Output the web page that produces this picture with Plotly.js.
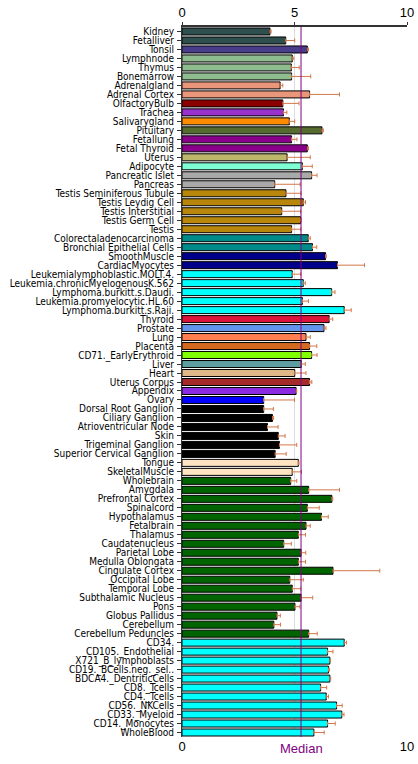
<!DOCTYPE html>
<html>
<head>
<meta charset="utf-8">
<script src="https://cdn.plot.ly/plotly-3.0.1.min.js"></script>
<style>
  html, body { margin: 0; padding: 0; background: #fff; }
  #chart { width: 418px; height: 764px; }
</style>
</head>
<body>
<div id="chart"></div>
<script>
// Tissue / cell-type expression profile with per-sample error
const tissues = [
  "Kidney", "Fetalliver", "Tonsil", "Lymphnode", "Thymus", "Bonemarrow",
  "Adrenalgland", "Adrenal Cortex", "OlfactoryBulb", "Trachea", "Salivarygland",
  "Pituitary", "Fetallung", "Fetal Thyroid", "Uterus", "Adipocyte",
  "Pancreatic Islet", "Pancreas", "Testis Seminiferous Tubule", "Testis Leydig Cell",
  "Testis Interstitial", "Testis Germ Cell", "Testis", "Colorectaladenocarcinoma",
  "Bronchial Epithelial Cells", "SmoothMuscle", "CardiacMyocytes",
  "Leukemialymphoblastic.MOLT.4.", "Leukemia.chronicMyelogenousK.562",
  "Lymphoma.burkitt.s.Daudi.", "Leukemia.promyelocytic.HL.60", "Lymphoma.burkitt.s.Raji.",
  "Thyroid", "Prostate", "Lung", "Placenta", "CD71._EarlyErythroid", "Liver", "Heart",
  "Uterus Corpus", "Appendix", "Ovary", "Dorsal Root Ganglion", "Ciliary Ganglion",
  "Atrioventricular Node", "Skin", "Trigeminal Ganglion", "Superior Cervical Ganglion",
  "Tongue", "SkeletalMuscle", "Wholebrain", "Amygdala", "Prefrontal Cortex",
  "Spinalcord", "Hypothalamus", "Fetalbrain", "Thalamus", "Caudatenucleus",
  "Parietal Lobe", "Medulla Oblongata", "Cingulate Cortex", "Occipital Lobe",
  "Temporal Lobe", "Subthalamic Nucleus", "Pons", "Globus Pallidus", "Cerebellum",
  "Cerebellum Peduncles", "CD34.", "CD105._Endothelial", "X721_B_lymphoblasts",
  "CD19._BCells.neg._sel..", "BDCA4._DentriticCells", "CD8._Tcells", "CD4._Tcells",
  "CD56._NKCells", "CD33._Myeloid", "CD14._Monocytes", "WholeBlood"
];

const expression = [
  3.91, 4.61, 5.57, 4.90, 4.86, 4.87,
  4.36, 5.67, 4.48, 4.51, 4.77,
  6.22, 4.87, 5.57, 4.67, 5.35,
  5.76, 4.12, 4.62, 5.39,
  4.43, 5.27, 4.87, 5.61,
  5.80, 6.38, 6.91,
  4.90, 5.39,
  6.65, 5.35, 7.21,
  6.54, 6.31, 5.51, 5.67, 5.76, 5.30, 5.01,
  5.67, 5.07, 3.63, 3.63, 4.02,
  3.80, 4.28, 4.33, 4.14,
  5.17, 4.90, 4.83, 5.63, 6.66,
  5.57, 6.20, 5.51, 5.17, 4.52,
  5.29, 5.17, 6.71, 4.79,
  4.90, 5.29, 5.02, 4.22, 4.08,
  5.63, 7.21, 6.47, 6.57,
  6.51, 6.57, 6.16, 6.41,
  6.87, 7.10, 6.47, 5.86
];

const errorPlus = [
  0.05, 0.40, 0.05, 0.07, 0.35, 0.85,
  0.12, 1.33, 0.72, 0.15, 0.24,
  0.06, 0.24, 0.05, 1.03, 0.44,
  0.24, 1.13, 0.67, 0.10,
  0.84, 0.03, 0.41, 0.09,
  0.19, 0.03, 1.20,
  0.38, 0.09,
  0.15, 0.27, 0.31,
  0.16, 0.09, 0.19, 0.32, 0.24, 0.18, 0.50,
  0.10, 0.03, 1.37, 0.43, 0.05,
  0.47, 0.30, 0.77, 0.49,
  0.03, 0.41, 0.27, 1.37, 0.04,
  0.53, 0.30, 0.19, 0.32, 0.34,
  0.21, 0.32, 2.08, 0.60,
  0.38, 0.52, 0.22, 0.15, 0.30,
  0.38, 0.10, 0.24, 0.03,
  0.04, 0.04, 0.27, 0.10,
  0.25, 0.10, 0.34, 0.46
];

const barColors = [
  "#2F4F4F", "#2F4F4F", "#483D8B", "#8FBC8F", "#8FBC8F", "#8FBC8F",
  "#E9967A", "#E9967A", "#8B0000", "#9932CC", "#FF8C00",
  "#556B2F", "#8B008B", "#8B008B", "#BDB76B", "#7FFFD4",
  "#A9A9A9", "#A9A9A9", "#B8860B", "#B8860B",
  "#B8860B", "#B8860B", "#B8860B", "#008B8B",
  "#008B8B", "#00008B", "#00008B",
  "#00FFFF", "#00FFFF",
  "#00FFFF", "#00FFFF", "#00FFFF",
  "#DC143C", "#6495ED", "#FF7F50", "#D2691E", "#7FFF00", "#5F9EA0", "#DEB887",
  "#A52A2A", "#8A2BE2", "#0000FF", "#000000", "#000000",
  "#000000", "#000000", "#000000", "#000000",
  "#FFE4C4", "#FFE4C4", "#006400", "#006400", "#006400",
  "#006400", "#006400", "#006400", "#006400", "#006400",
  "#006400", "#006400", "#006400", "#006400",
  "#006400", "#006400", "#006400", "#006400", "#006400",
  "#006400", "#00FFFF", "#00FFFF", "#00FFFF",
  "#00FFFF", "#00FFFF", "#00FFFF", "#00FFFF",
  "#00FFFF", "#00FFFF", "#00FFFF", "#00FFFF"
];

const medianValue = 5.29;
const topTicks = [0, 5, 10];
const bottomTicks = [0, 10];
const bottomTickText = ["0", "10"];
const medianLabel = "Median";

const labelFont = { family: "DejaVu Sans Condensed, DejaVu Sans, sans-serif", size: 10, color: "#000" };
const numFont = { family: "Liberation Sans, Arial, sans-serif", size: 13, color: "#000" };

const bars = {
  type: "bar",
  orientation: "h",
  y: tissues,
  x: expression,
  width: 0.78,
  marker: { color: barColors, line: { color: "#000", width: 1 } },
  error_x: {
    type: "data",
    symmetric: false,
    array: errorPlus,
    arrayminus: expression.map(() => 0),
    color: "#D2784B",
    thickness: 1,
    width: 2
  },
  hoverinfo: "x+y",
  showlegend: false
};

// invisible trace to activate the lower axis
const bottomAxisCarrier = {
  type: "scatter", mode: "markers",
  x: [0], y: [tissues[0]], xaxis: "x2",
  marker: { opacity: 0 }, hoverinfo: "skip", showlegend: false
};

const layout = {
  width: 418,
  height: 764,
  margin: { l: 182, r: 11, t: 27, b: 27 },
  paper_bgcolor: "#fff",
  plot_bgcolor: "#fff",
  xaxis: {
    side: "top",
    range: [0, 10],
    tickvals: topTicks,
    ticktext: topTicks.map(String),
    tickfont: numFont,
    ticks: "outside",
    ticklen: 3,
    tickcolor: "#333",
    showline: true,
    linecolor: "#333",
    linewidth: 2,
    showgrid: true,
    gridcolor: "#dcdcdc",
    gridwidth: 1,
    zeroline: false,
    fixedrange: true
  },
  xaxis2: {
    overlaying: "x",
    side: "bottom",
    anchor: "y",
    range: [0, 10],
    tickvals: bottomTicks,
    ticktext: bottomTickText,
    tickfont: numFont,
    ticks: "",
    showline: false,
    showgrid: false,
    zeroline: false,
    fixedrange: true
  },
  yaxis: {
    type: "category",
    range: [tissues.length - 0.5, -0.5],
    tickmode: "linear",
    tick0: 0,
    dtick: 1,
    tickfont: labelFont,
    ticks: "outside",
    ticklen: 4,
    tickcolor: "#333",
    showline: true,
    linecolor: "#333",
    linewidth: 1,
    showgrid: false,
    zeroline: false,
    fixedrange: true,
    ticklabelstandoff: 1
  },
  shapes: [{
    type: "line", xref: "x", yref: "paper",
    x0: medianValue, x1: medianValue, y0: 0, y1: 1,
    line: { color: "#800080", width: 1 }
  }],
  annotations: [{
    xref: "x", yref: "paper",
    x: medianValue, y: 0, yshift: -2,
    xanchor: "center", yanchor: "top",
    text: medianLabel, showarrow: false,
    font: { family: "Liberation Sans, Arial, sans-serif", size: 13, color: "#800080" }
  }]
};

Plotly.newPlot("chart", [bars, bottomAxisCarrier], layout, { displayModeBar: false, staticPlot: true });
</script>
</body>
</html>
